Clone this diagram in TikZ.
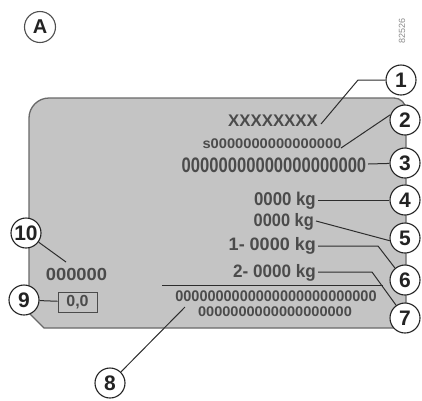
\documentclass[tikz,border=0pt]{standalone}
\usepackage{graphicx}
\usepackage{fontspec}
\setmainfont{Liberation Sans}
\definecolor{platefill}{RGB}{196,196,196}
\definecolor{plateedge}{RGB}{105,105,105}
\definecolor{txtc}{RGB}{75,75,75}
\definecolor{leadc}{RGB}{45,45,45}
\definecolor{numc}{RGB}{35,35,35}
\newcommand{\ptxt}[3]{\fontsize{#1}{#1}\selectfont\bfseries\scalebox{#2}[1]{#3}}
\begin{document}
\begin{tikzpicture}[x=1pt,y=-1pt,
  num/.style={circle, draw=numc, fill=white, line width=1.1pt, minimum size=30pt, inner sep=0pt,
    font=\fontsize{21}{21}\selectfont\bfseries, text=numc},
  lead/.style={draw=leadc, line width=1pt},
  ptext/.style={inner sep=0pt, text=txtc}]
\useasboundingbox (0,0) rectangle (422,400);
% plate
\path[fill=platefill, draw=plateedge, line width=1.3pt]
  (49,98) -- (394,98) arc[start angle=270, end angle=360, radius=12] -- (406,328) -- (44,328) -- (29,313) -- (29,118)
  arc[start angle=180, end angle=270, radius=20] -- cycle;
% texts
\node[ptext, anchor=base] (t1) at (273,126) {\ptxt{16.8}{1.0}{XXXXXXXX}};
\node[ptext, anchor=base] (t2) at (272,148) {\ptxt{14}{1.05}{s0000000000000000}};
\node[ptext, anchor=base] (t3) at (274,172.5) {\ptxt{21}{0.79}{00000000000000000000}};
\node[ptext, anchor=base east] (t4) at (316,205) {\ptxt{18.5}{0.91}{0000 kg}};
\node[ptext, anchor=base east] (t5) at (314,226) {\ptxt{18}{0.91}{0000 kg}};
\node[ptext, anchor=base east] (t6) at (316,250) {\ptxt{18}{1.0}{1- 0000 kg}};
\node[ptext, anchor=base east] (t7) at (316,277) {\ptxt{18}{0.95}{2- 0000 kg}};
\node[ptext, anchor=base] (t8a) at (276,301) {\ptxt{15.4}{0.94}{0000000000000000000000000}};
\node[ptext, anchor=base] (t8b) at (275,316) {\ptxt{14}{1.04}{0000000000000000000}};
\node[ptext, anchor=base] (t10) at (76.5,280) {\ptxt{17.5}{1.05}{000000}};
\node[draw=txtc, line width=1pt, minimum width=39pt, minimum height=20pt, inner sep=0pt, text=txtc] (box) at (77.5,302)
  {\ptxt{16}{1.0}{0,0}};
% corner label and code
\node[circle, draw=numc!80, fill=white, line width=1.1pt, minimum size=31pt, inner sep=0pt,
  font=\fontsize{20}{20}\selectfont\bfseries, text=numc] (cA) at (40,27) {A};
\node[rotate=90, inner sep=0pt, text=black!45, font=\fontsize{9}{9}\selectfont] (code) at (402,31) {82526};
% coordinates for leader ends
\coordinate (e1) at (321,124); \coordinate (k1) at (358,80);
\coordinate (e2) at (341,148);
\coordinate (e3) at (368,164);
\coordinate (e4) at (318,200);
\coordinate (e5) at (316,221);
\coordinate (e6) at (318,246); \coordinate (k6) at (378,246);
\coordinate (e7) at (318,272); \coordinate (k7) at (372,272);
\coordinate (s1) at (162,285); \coordinate (s2) at (383,285);
\coordinate (e8) at (185,307);
\coordinate (e10) at (66,262);
% numbered circles
\node[num] (c1) at (401,80) {1};
\node[num] (c2) at (405,120) {2};
\node[num] (c3) at (405,163) {3};
\node[num] (c4) at (405,200) {4};
\node[num] (c5) at (405,238) {5};
\node[num] (c6) at (405,280) {6};
\node[num] (c7) at (405,318) {7};
\node[num] (c8) at (110,383) {8};
\node[num] (c9) at (24,300) {9};
\node[num] (c10) at (26,233) {10};
% leaders
\draw[lead] (e1) -- (k1) -- (c1);
\draw[lead] (e2) -- (c2.160);
\draw[lead] (e3) -- (c3);
\draw[lead] (e4) -- (c4);
\draw[lead] (e5) -- (c5.190);
\draw[lead] (e6) -- (k6) -- (c6.130);
\draw[lead] (e7) -- (k7) -- (c7.125);
\draw[lead] (s1) -- (s2);
\draw[lead] (c8) -- (e8);
\draw[lead] (c9) -- (box);
\draw[lead] (c10) -- (e10);
\end{tikzpicture}
\end{document}
